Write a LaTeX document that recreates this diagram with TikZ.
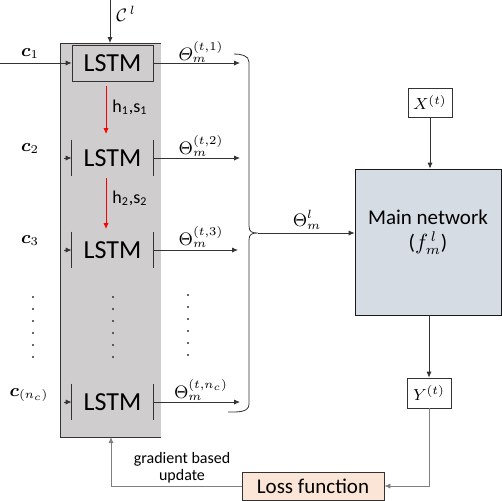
\documentclass[tikz,border=0pt]{standalone}
\usepackage{amsmath}
\usepackage{amssymb}
\usepackage{bm}
\usepackage{fontspec}
\newfontfamily\calib{Carlito}
\usetikzlibrary{arrows.meta,positioning}
\definecolor{panelgray}{RGB}{207,205,206}
\definecolor{netblue}{RGB}{214,220,228}
\definecolor{losspeach}{RGB}{251,229,214}
\tikzset{
	cell/.style={minimum width=40.5pt,minimum height=18pt,inner sep=0pt,font=\calib\fontsize{13}{15}\selectfont},
	inlab/.style={inner sep=0pt,font=\fontsize{9}{10}\selectfont},
	outlab/.style={inner sep=0pt,font=\fontsize{9}{10}\selectfont},
	hlab/.style={inner sep=0pt,font=\calib\fontsize{9}{10}\selectfont},
	iobox/.style={draw=black!80,inner sep=0pt,font=\fontsize{8}{9}\selectfont},
	dot/.style={circle,fill=black!80,inner sep=0pt,minimum size=1.1pt}
}
\begin{document}
\begin{tikzpicture}[x=0.5pt,y=-0.5pt,>={Latex[length=3pt,width=2.6pt]},thin,draw=black!80]
			\useasboundingbox (0,0) rectangle (502,500);
			\fill[panelgray] (60,43) rectangle (161,437);
			\draw (161,43) -- (60,43) -- (60,437) -- (161,437);
			\node[cell,draw=black!80](l1) at (112.5,63) {LSTM};
			\node[cell](l2) at (112.5,158) {LSTM};
			\node[cell](l3) at (112.5,250) {LSTM};
			\node[cell](ln) at (112.5,402) {LSTM};
			\foreach \n in {l2,l3,ln}
				\draw (\n.north west) -- (\n.south west) (\n.north east) -- (\n.south east);
			\node[inlab](c1) at (30,53) {$\bm{c}_1$};
			\node[inlab](c2) at (30,148) {$\bm{c}_2$};
			\node[inlab](c3) at (30,240) {$\bm{c}_3$};
			\node[inlab](cn) at (29,395) {$\bm{c}_{(n_c)}$};
			\coordinate (i1) at (0,63);
			\coordinate (i2) at (64,158);
			\coordinate (i3) at (64,250);
			\coordinate (in) at (64,402);
			\coordinate (ctop) at (110,0);
			\coordinate (cbot) at (110,43);
			\node[inlab](cl) at (126,14) {$\mathcal{C}^{\,l}$};
			\coordinate (r1a) at (106,86);
			\coordinate (r1b) at (106,134);
			\coordinate (r2a) at (106,178);
			\coordinate (r2b) at (106,229);
			\node[hlab](h1) at (130,107) {h\textsubscript{1},s\textsubscript{1}};
			\node[hlab](h2) at (130,198) {h\textsubscript{2},s\textsubscript{2}};
			\coordinate (o1) at (240,63);
			\coordinate (o2) at (240,158);
			\coordinate (o3) at (238,250);
			\coordinate (on) at (240,402);
			\node[outlab](t1) at (201,52) {$\varTheta_m^{(t,1)}$};
			\node[outlab](t2) at (201,146) {$\Theta_m^{(t,2)}$};
			\node[outlab](t3) at (201,237) {$\Theta_m^{(t,3)}$};
			\node[outlab](tn) at (201,390) {$\Theta_m^{(t,n_c)}$};
			\foreach \y in {297,309,...,357} {
				\node[dot] at (33,\y) {};
				\node[dot] at (113,\y) {};
				\node[dot] at (188,\y-2) {};
			}
			\draw (234,54) to[out=0,in=90] (249,62) -- (249,226)
				.. controls (249,232) and (252,233) .. (258,233)
				.. controls (252,233) and (249,234) .. (249,240) -- (249,404)
				to[out=-90,in=0] (228,412);
			\coordinate (tip) at (258,233);
			\node[outlab](tl) at (307,220) {$\Theta_m^{l}$};
			\node[draw=black!90,fill=netblue,minimum width=73pt,minimum height=73pt,inner sep=0pt,font=\calib\fontsize{10.5}{12}\selectfont](main) at (428,242)
				{\raisebox{5pt}[\height][\depth]{\begin{tabular}{@{}c@{}}Main network\\($f_m^{\,l}$)\end{tabular}}};
			\node[iobox,minimum width=22pt,minimum height=14.5pt](xb) at (430,102.5) {$X^{(t)}$};
			\node[iobox,minimum width=22pt,minimum height=15pt](yb) at (429,393) {$Y^{(t)}$};
			\node[draw=black!80,fill=losspeach,minimum width=71pt,minimum height=14pt,inner sep=0pt,font=\calib\fontsize{10.5}{12}\selectfont](loss) at (313,486) {Loss function};
			\node[align=center,font=\calib\fontsize{8}{8.5}\selectfont](grad) at (182,468) {gradient based\\update};
			\coordinate (pbot) at (111,437);
			\path[->]
			(i1) edge (l1.west)
			(i2) edge (l2.west)
			(i3) edge (l3.west)
			(in) edge (ln.west)
			(ctop) edge (cbot)
			(l1.east) edge (o1)
			(l2.east) edge (o2)
			(l3.east) edge (o3)
			(ln.east) edge (on)
			(tip) edge (tip -| main.west)
			(xb.south) edge (xb.south |- main.north)
			(yb.north |- main.south) edge (yb.north);
			\draw[->,red] (r1a) -- (r1b);
			\draw[->,red] (r2a) -- (r2b);
			\draw[->,black!50] (yb.south) |- (loss.east);
			\draw[->,black!50] (loss.west) -| (pbot);
			\end{tikzpicture}
\end{document}
